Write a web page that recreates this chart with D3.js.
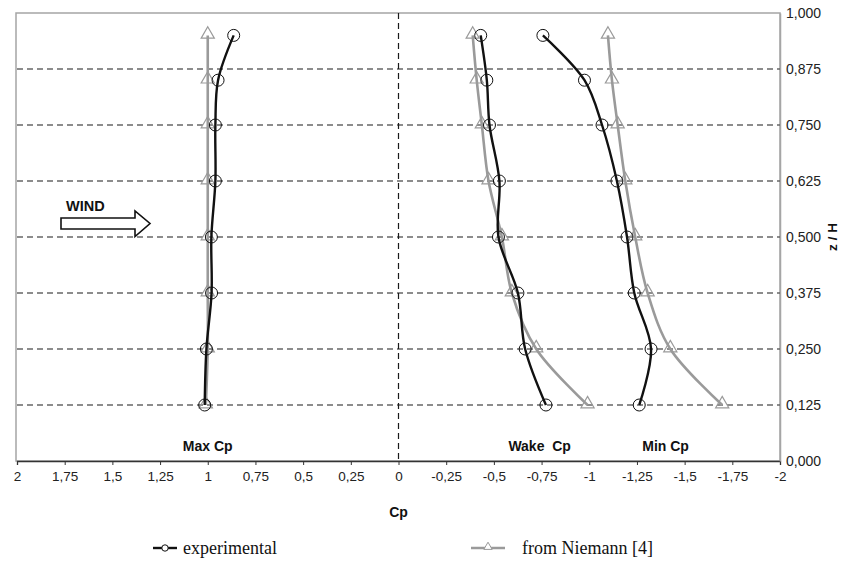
<!DOCTYPE html>
<html>
<head>
<meta charset="utf-8">
<script src="https://cdn.jsdelivr.net/npm/d3@7"></script>
<style>
  html, body { margin: 0; padding: 0; background: #fff; }
  svg { display: block; }
  .tick text { fill: #222; }
</style>
</head>
<body>
<svg id="chart" width="842" height="566"></svg>
<script>
// Height levels z/H of the pressure taps
const levels = [0.125, 0.25, 0.375, 0.5, 0.625, 0.75, 0.85, 0.95];

// Experimental Cp profiles
const expMax  = [1.016, 1.007, 0.98, 0.981, 0.96, 0.96, 0.946, 0.864];
const expWake = [-0.773, -0.664, -0.626, -0.524, -0.529, -0.477, -0.463, -0.431];
const expMin  = [-1.262, -1.324, -1.236, -1.198, -1.145, -1.067, -0.975, -0.757];

// Reference profiles from Niemann [4]
const niemMax  = [1.01, 1.0, 1.0, 1.0, 1.0, 1.0, 1.0, 1.0];
const niemWake = [-0.991, -0.722, -0.594, -0.542, -0.472, -0.437, -0.41, -0.389];
const niemMin  = [-1.697, -1.425, -1.306, -1.241, -1.189, -1.149, -1.119, -1.098];

// Axis ticks
const xTicks = [2, 1.75, 1.5, 1.25, 1, 0.75, 0.5, 0.25, 0, -0.25, -0.5, -0.75, -1, -1.25, -1.5, -1.75, -2];
const xTickLabels = ["2", "1,75", "1,5", "1,25", "1", "0,75", "0,5", "0,25", "0", "-0,25", "-0,5", "-0,75", "-1", "-1,25", "-1,5", "-1,75", "-2"];
const yTicks = [0, 0.125, 0.25, 0.375, 0.5, 0.625, 0.75, 0.875, 1];
const yTickLabels = ["0,000", "0,125", "0,250", "0,375", "0,500", "0,625", "0,750", "0,875", "1,000"];
const gridLevels = [0.125, 0.25, 0.375, 0.5, 0.625, 0.75, 0.875];

// Profile group labels
const groupLabels = [
  { text: "Max Cp", cp: 1.0 },
  { text: "Wake  Cp", cp: -0.74 },
  { text: "Min Cp", cp: -1.4 }
];

const svg = d3.select("#chart");
const plotL = 17, plotR = 780, plotT = 13, plotB = 461;

const x = d3.scaleLinear().domain([2, -2]).range([plotL, plotR]);
const y = d3.scaleLinear().domain([0, 1]).range([plotB, plotT]);

const black = "#111";
const grey = "#9a9a9a";
const sans = "'Liberation Sans', Arial, sans-serif";

// plot frame
svg.append("rect")
  .attr("x", plotL - 1).attr("y", plotT)
  .attr("width", plotR - plotL + 1).attr("height", plotB - plotT)
  .attr("fill", "none").attr("stroke", "#a5a5a5").attr("stroke-width", 1.5);

// horizontal dashed gridlines
svg.append("g").selectAll("line").data(gridLevels).join("line")
  .attr("x1", plotL).attr("x2", plotR)
  .attr("y1", d => y(d)).attr("y2", d => y(d))
  .attr("stroke", "#1a1a1a").attr("stroke-width", 1.2)
  .attr("stroke-dasharray", "6,4");

// vertical dashed line at Cp = 0
svg.append("line")
  .attr("x1", x(0)).attr("x2", x(0))
  .attr("y1", plotT).attr("y2", plotB)
  .attr("stroke", "#1a1a1a").attr("stroke-width", 1.2)
  .attr("stroke-dasharray", "6,4");

// x axis
const xAxis = svg.append("g")
  .attr("transform", `translate(0,${plotB})`)
  .call(d3.axisBottom(x).tickValues(xTicks).tickSize(4).tickPadding(6)
    .tickFormat((d, i) => xTickLabels[i]));
xAxis.select(".domain").attr("stroke", "#333").attr("stroke-width", 1.3);
xAxis.selectAll(".tick line").attr("stroke", "#333");
xAxis.selectAll(".tick text")
  .attr("font-family", sans).attr("font-size", 13.5);

// y axis on the right
const yAxis = svg.append("g")
  .attr("transform", `translate(${plotR},0)`)
  .call(d3.axisRight(y).tickValues(yTicks).tickSize(0).tickPadding(6)
    .tickFormat((d, i) => yTickLabels[i]));
yAxis.select(".domain").attr("stroke", "#a5a5a5").attr("stroke-width", 1.5);
yAxis.selectAll(".tick text")
  .attr("font-family", sans).attr("font-size", 14)
  .attr("fill", "#333");

// axis titles
svg.append("text")
  .attr("x", x(0)).attr("y", 517)
  .attr("text-anchor", "middle")
  .attr("font-family", sans).attr("font-weight", "bold").attr("font-size", 14)
  .attr("fill", black).text("Cp");

svg.append("text")
  .attr("transform", `translate(837,${y(0.5)}) rotate(-90)`)
  .attr("text-anchor", "middle")
  .attr("font-family", sans).attr("font-weight", "bold").attr("font-size", 13.5)
  .attr("fill", black).text("z / H");

// group labels
svg.append("g").selectAll("text").data(groupLabels).join("text")
  .attr("x", d => x(d.cp)).attr("y", 451)
  .attr("text-anchor", "middle")
  .attr("font-family", sans).attr("font-weight", "bold").attr("font-size", 14)
  .attr("fill", black)
  .style("white-space", "pre")
  .text(d => d.text);

// wind arrow annotation
svg.append("text")
  .attr("x", 66).attr("y", 211)
  .attr("font-family", sans)
  .attr("font-weight", "bold").attr("font-size", 14.5)
  .attr("fill", black).text("WIND");
svg.append("path")
  .attr("d", "M61,218 L135,218 L135,211 L150,223.5 L135,236.5 L135,229 L61,229 Z")
  .attr("fill", "#fff").attr("stroke", black).attr("stroke-width", 1.6)
  .attr("stroke-linejoin", "miter");

// profiles
const line = d3.line()
  .x(d => x(d[0])).y(d => y(d[1]))
  .curve(d3.curveCatmullRom.alpha(0.5));

const series = [
  { vals: niemMax, kind: "niem" },
  { vals: niemWake, kind: "niem" },
  { vals: niemMin, kind: "niem" },
  { vals: expMax, kind: "exp" },
  { vals: expWake, kind: "exp" },
  { vals: expMin, kind: "exp" }
];

const triangle = d3.symbol().type(d3.symbolTriangle).size(75);

series.forEach(s => {
  const pts = s.vals.map((v, i) => [v, levels[i]]);
  const col = s.kind === "exp" ? black : grey;
  svg.append("path")
    .datum(pts)
    .attr("d", line)
    .attr("fill", "none")
    .attr("stroke", col)
    .attr("stroke-width", s.kind === "exp" ? 2.4 : 2.6);
  if (s.kind === "exp") {
    svg.append("g").selectAll("circle").data(pts).join("circle")
      .attr("cx", d => x(d[0])).attr("cy", d => y(d[1]))
      .attr("r", 6)
      .attr("fill", "none").attr("stroke", black).attr("stroke-width", 1);
  } else {
    svg.append("g").selectAll("path").data(pts).join("path")
      .attr("transform", d => `translate(${x(d[0])},${y(d[1]) - 1})`)
      .attr("d", triangle)
      .attr("fill", "none").attr("stroke", grey).attr("stroke-width", 1.2);
  }
});

// legend
const legend = svg.append("g")
  .attr("font-family", "'Liberation Serif', 'Times New Roman', serif")
  .attr("font-size", 18).attr("fill", black);

legend.append("line").attr("x1", 153).attr("x2", 177).attr("y1", 548).attr("y2", 548)
  .attr("stroke", black).attr("stroke-width", 2.4);
legend.append("circle").attr("cx", 165).attr("cy", 548).attr("r", 3.2)
  .attr("fill", "#fff").attr("stroke", black).attr("stroke-width", 1);
legend.append("text").attr("x", 183).attr("y", 554).text("experimental");

legend.append("line").attr("x1", 471).attr("x2", 505).attr("y1", 548).attr("y2", 548)
  .attr("stroke", grey).attr("stroke-width", 2.4);
legend.append("path")
  .attr("transform", "translate(488,547)")
  .attr("d", d3.symbol().type(d3.symbolTriangle).size(30))
  .attr("fill", "#fff").attr("stroke", grey).attr("stroke-width", 1);
legend.append("text").attr("x", 522).attr("y", 554).text("from Niemann [4]");
</script>
</body>
</html>
